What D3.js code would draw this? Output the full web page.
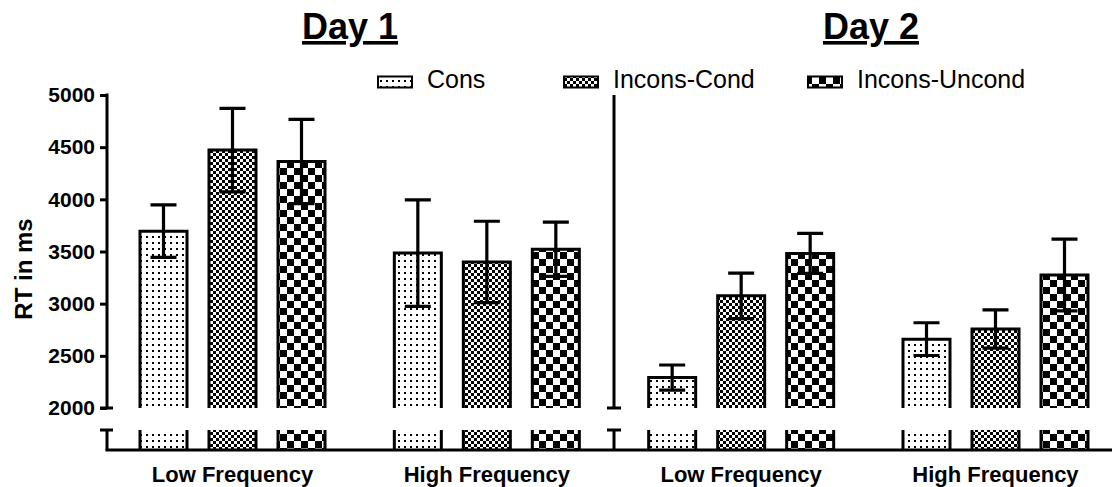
<!DOCTYPE html>
<html><head><meta charset="utf-8">
<script src="https://cdn.jsdelivr.net/npm/d3@7"></script>
<style>
html,body{margin:0;padding:0;background:#fff;}
svg{display:block;font-family:"Liberation Sans",Arial,Helvetica,sans-serif;}
</style></head>
<body>
<script>
// ---- data ----
const dayTitles = ["Day 1", "Day 2"];
const groups = ["D1-Low", "D1-High", "D2-Low", "D2-High"];
const groupLabels = ["Low Frequency", "High Frequency", "Low Frequency", "High Frequency"];
const series = ["Cons", "Incons-Cond", "Incons-Uncond"];
const consMeans = [3695, 3485, 2292, 2660];
const consErr = [252, 510, 120, 157];
const condMeans = [4472, 3400, 3075, 2757];
const condErr = [400, 390, 218, 184];
const uncondMeans = [4362, 3522, 3482, 3275];
const uncondErr = [404, 260, 192, 344];
const yTicks = [2000, 2500, 3000, 3500, 4000, 4500, 5000];

const means = [consMeans, condMeans, uncondMeans];
const errs = [consErr, condErr, uncondErr];

const W = 1115, H = 487;
const svg = d3.select("body").append("svg").attr("width", W).attr("height", H);

// patterns
const defs = svg.append("defs");
const pDots = defs.append("pattern").attr("id", "p0").attr("patternUnits", "userSpaceOnUse").attr("width", 6).attr("height", 6);
pDots.append("rect").attr("width", 6).attr("height", 6).attr("fill", "#fff");
pDots.append("rect").attr("x", 2).attr("y", 2).attr("width", 2).attr("height", 2).attr("fill", "#000");
const pFine = defs.append("pattern").attr("id", "p1").attr("patternUnits", "userSpaceOnUse").attr("width", 6).attr("height", 6);
pFine.append("rect").attr("width", 6).attr("height", 6).attr("fill", "#fff");
pFine.append("rect").attr("width", 3).attr("height", 3).attr("fill", "#000");
pFine.append("rect").attr("x", 3).attr("y", 3).attr("width", 3).attr("height", 3).attr("fill", "#000");
const pCoarse = defs.append("pattern").attr("id", "p2").attr("patternUnits", "userSpaceOnUse").attr("width", 14).attr("height", 14);
pCoarse.append("rect").attr("width", 14).attr("height", 14).attr("fill", "#fff");
pCoarse.append("rect").attr("width", 7).attr("height", 7).attr("fill", "#000");
pCoarse.append("rect").attr("x", 7).attr("y", 7).attr("width", 7).attr("height", 7).attr("fill", "#000");
const fills = ["url(#p0)", "url(#p1)", "url(#p2)"];

// scales
const y = d3.scaleLinear().domain([2000, 5000]).range([408, 95]);
const x0 = d3.scaleBand().domain(groups).range([140, 1088]).paddingInner(0.2726);
const x1 = d3.scaleBand().domain(series).range([0, x0.bandwidth()]).paddingInner(0.3188);

const axisX = 107, baseY = 450, breakTop = 430;
const day2X = (x0(groups[1]) + x0.bandwidth() + x0(groups[2])) / 2;

// bars
const barG = svg.append("g");
groups.forEach((g, gi) => {
  series.forEach((s, si) => {
    const v = means[si][gi], e = errs[si][gi];
    const bx = x0(g) + x1(s), bw = x1.bandwidth();
    const top = y(v), bot = y(2000);
    barG.append("rect").attr("x", bx).attr("y", top).attr("width", bw).attr("height", bot - top).attr("fill", fills[si]);
    barG.append("path").attr("d", `M${bx},${bot}V${top}H${bx + bw}V${bot}`)
      .attr("fill", "none").attr("stroke", "#000").attr("stroke-width", 3);
    barG.append("rect").attr("x", bx).attr("y", breakTop).attr("width", bw).attr("height", baseY - breakTop).attr("fill", fills[si]);
    barG.append("path").attr("d", `M${bx},${breakTop}V${baseY}M${bx + bw},${breakTop}V${baseY}`)
      .attr("fill", "none").attr("stroke", "#000").attr("stroke-width", 3);
    const cx = bx + bw / 2;
    barG.append("path").attr("d", `M${cx},${y(v - e)}V${y(v + e)}M${cx - 13},${y(v + e)}H${cx + 13}M${cx - 13},${y(v - e)}H${cx + 13}`)
      .attr("fill", "none").attr("stroke", "#000").attr("stroke-width", 3.2);
  });
});

// y axis
const yAxis = svg.append("g").attr("transform", `translate(${axisX},0)`)
  .call(d3.axisLeft(y).tickValues(yTicks).tickSize(7).tickPadding(5).tickFormat(d3.format("d")));
yAxis.select(".domain").remove();
yAxis.selectAll(".tick line").attr("stroke", "#000").attr("stroke-width", 3);
yAxis.selectAll(".tick text").attr("font-size", 21).attr("font-weight", "bold").attr("fill", "#000")
  .attr("font-family", "'Liberation Sans',Arial,sans-serif");
const axes = svg.append("g").attr("fill", "none").attr("stroke", "#000").attr("stroke-width", 3);
axes.append("path").attr("d", `M${axisX},${y(5000) - 1.5}V${y(2000)}M${axisX - 7},${y(2000)}H${axisX + 6}`);
axes.append("path").attr("d", `M${axisX - 7},${breakTop}H${axisX + 6}M${axisX},${breakTop}V${baseY}`);
axes.append("path").attr("d", `M${axisX - 1.5},${baseY}H${1112}`);
axes.append("path").attr("d", `M${day2X},${y(5000)}V${y(2000)}M${day2X - 7},${y(2000)}H${day2X + 7}`);
axes.append("path").attr("d", `M${day2X - 7},${breakTop}H${day2X + 7}M${day2X},${breakTop}V${baseY}`);

// y label
svg.append("text").attr("transform", `translate(32,269) rotate(-90)`)
  .attr("text-anchor", "middle").attr("font-size", 24).attr("font-weight", "bold").text("RT in ms");

// x labels
svg.append("g").selectAll("text").data(groups).join("text")
  .attr("x", d => x0(d) + x0.bandwidth() / 2).attr("y", 482)
  .attr("text-anchor", "middle").attr("font-size", 22).attr("font-weight", "bold")
  .text((d, i) => groupLabels[i]);

// day titles
svg.append("g").selectAll("text").data(dayTitles).join("text")
  .attr("x", (d, i) => [350, 871][i]).attr("y", 39)
  .attr("text-anchor", "middle").attr("font-size", 36).attr("font-weight", "bold")
  .attr("text-decoration", "underline").text(d => d);

// legend
const legX = [378, 564, 808];
const leg = svg.append("g");
series.forEach((s, i) => {
  leg.append("rect").attr("x", legX[i]).attr("y", 76.5).attr("width", 34).attr("height", 11)
    .attr("fill", fills[i]).attr("stroke", "#000").attr("stroke-width", 2);
  leg.append("text").attr("x", legX[i] + 49).attr("y", 88).attr("font-size", 25).text(s);
});
</script>
</body></html>
